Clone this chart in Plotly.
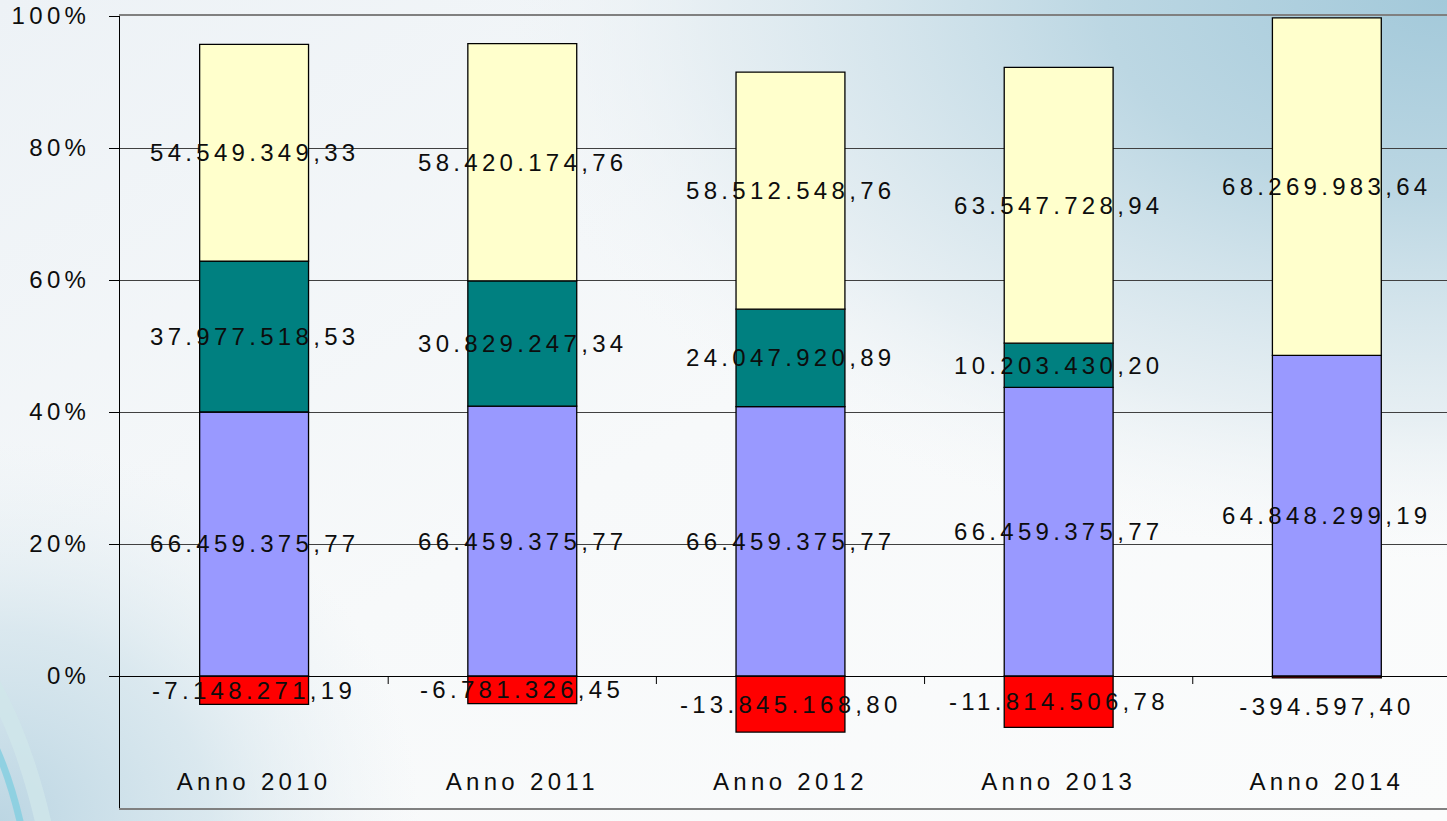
import base64
import plotly.graph_objects as go

# ---- data ----
categories = ["Anno 2010", "Anno 2011", "Anno 2012", "Anno 2013", "Anno 2014"]
negativo = [-7148271.19, -6781326.45, -13845168.80, -11814506.78, -394597.40]
blu = [66459375.77, 66459375.77, 66459375.77, 66459375.77, 64848299.19]
verde = [37977518.53, 30829247.34, 24047920.89, 10203430.20, None]
giallo = [54549349.33, 58420174.76, 58512548.76, 63547728.94, 68269983.64]
y_tickvals = [-20, 0, 20, 40, 60, 80, 100]
y_ticktext = ["-20%", "0%", "20%", "40%", "60%", "80%", "100%"]

series = [
    ("negativo", negativo, "#FF0000"),
    ("blu", blu, "#9999FF"),
    ("verde", verde, "#008080"),
    ("giallo", giallo, "#FFFFCC"),
]

FONT = "Arial, 'Liberation Sans', sans-serif"
TXT = "#0d0d0d"


def fmt(v):
    s = f"{abs(v):,.2f}".replace(",", "X").replace(".", ",").replace("X", ".")
    return ("-" if v < 0 else "") + s


totals = []
for i in range(len(categories)):
    t = 0.0
    for _, vals, _ in series:
        if vals[i] is not None:
            t += abs(vals[i])
    totals.append(t)

pct = {}
for name, vals, _ in series:
    pct[name] = [None if v is None else v / totals[i] * 100 for i, v in enumerate(vals)]

fig = go.Figure()
for name, vals, color in series:
    fig.add_trace(go.Bar(
        x=list(range(len(categories))), y=pct[name], name=name,
        marker=dict(color=color, line=dict(color="#000000", width=1.3)),
        width=0.406, hoverinfo="skip", showlegend=False,
    ))

# labels at segment centers
annotations = []
px_per_unit = 792 / 120.0
for i in range(len(categories)):
    pos_base = 0.0
    for name, vals, _ in series:
        v = vals[i]
        if v is None:
            continue
        p = pct[name][i]
        if v < 0:
            center = p / 2
            if abs(p) * px_per_unit < 20:
                annotations.append(dict(x=i, y=p, text=fmt(v), showarrow=False,
                                        yanchor="top", yshift=-13,
                                        font=dict(family=FONT, size=24, color=TXT)))
                continue
        else:
            center = pos_base + p / 2
            pos_base += p
        annotations.append(dict(x=i, y=center, text=fmt(v), showarrow=False,
                                yanchor="middle",
                                font=dict(family=FONT, size=24, color=TXT)))

# category boundary tick marks on the zero line
shapes = []
for i in range(len(categories)):
    shapes.append(dict(type="line", xref="x", yref="y", x0=i + 0.5, x1=i + 0.5,
                       ysizemode="pixel", yanchor=0, y0=0, y1=-8,
                       line=dict(color="#000000", width=1)))

# background gradient
W, H = 1447, 821
svg = f"""<svg xmlns='http://www.w3.org/2000/svg' width='{W}' height='{H}' viewBox='0 0 {W} {H}'>
<defs>
<radialGradient id='a' gradientUnits='userSpaceOnUse' cx='0' cy='0' r='1' gradientTransform='translate({W} 0) scale(980 560)'>
<stop offset='0' stop-color='#a3c9da'/>
<stop offset='0.35' stop-color='#bcd7e3'/>
<stop offset='0.75' stop-color='#e2ecf1' stop-opacity='0.8'/>
<stop offset='1' stop-color='#f3f6f8' stop-opacity='0'/>
</radialGradient>
<radialGradient id='b' gradientUnits='userSpaceOnUse' cx='0' cy='0' r='1' gradientTransform='translate(0 {H}) scale(420 380)'>
<stop offset='0' stop-color='#bcd6e3'/>
<stop offset='0.5' stop-color='#d3e4ec' stop-opacity='0.8'/>
<stop offset='1' stop-color='#e8f0f4' stop-opacity='0'/>
</radialGradient>
<linearGradient id='c' x1='0' y1='0' x2='1' y2='1'>
<stop offset='0' stop-color='#edf2f6'/>
<stop offset='0.5' stop-color='#f7f9fa'/>
<stop offset='1' stop-color='#fbfcfc'/>
</linearGradient>
</defs>
<rect width='{W}' height='{H}' fill='url(#c)'/>
<rect width='{W}' height='{H}' fill='url(#b)'/>
<rect width='{W}' height='{H}' fill='url(#a)'/>
<path d='M-10,680 Q25,740 45,830' stroke='#cfe6ea' stroke-width='16' fill='none' opacity='0.8'/>
<path d='M-10,735 Q10,775 22,830' stroke='#86cfe0' stroke-width='7' fill='none' opacity='0.85'/>
</svg>"""
src = "data:image/svg+xml;base64," + base64.b64encode(svg.encode()).decode()

L, R, T, B = 120, 0, 16, 13
pw, ph = W - L - R, H - T - B

fig.update_layout(
    width=W, height=H,
    margin=dict(l=L, r=R, t=T, b=B, pad=0),
    barmode="relative",
    paper_bgcolor="#ffffff",
    plot_bgcolor="rgba(0,0,0,0)",
    showlegend=False,
    annotations=annotations,
    shapes=shapes,
    images=[dict(source=src, xref="paper", yref="paper",
                 x=-L / pw, y=1 + T / ph, sizex=W / pw, sizey=H / ph,
                 sizing="stretch", xanchor="left", yanchor="top", layer="below")],
    font=dict(family=FONT, size=24, color=TXT),
)
fig.update_xaxes(
    range=[-0.5, 4.448],
    tickvals=list(range(len(categories))), ticktext=categories,
    ticks="", showgrid=False, zeroline=False,
    showline=True, linecolor="#808080", linewidth=2, mirror=True,
    ticklabelposition="inside", ticklabelstandoff=15,
    tickfont=dict(family=FONT, size=24, color=TXT),
)
fig.update_yaxes(
    range=[-20, 100], tickvals=y_tickvals, ticktext=y_ticktext,
    ticks="outside", ticklen=10, tickcolor="#000000", tickwidth=1,
    showline=True, linecolor="#000000", linewidth=1, mirror=False,
    showgrid=True, gridcolor="#404040", gridwidth=1,
    zeroline=True, zerolinecolor="#000000", zerolinewidth=1,
    ticklabelstandoff=14,
    tickfont=dict(family=FONT, size=24, color=TXT),
)

post = """
var st = document.createElement('style');
st.innerHTML = 'html, body { margin: 0; padding: 0; overflow: hidden; } .main-svg text { letter-spacing: 4.3px; }';
document.head.appendChild(st);
"""
fig.write_html("out.html", post_script=post, config={"displayModeBar": False})
